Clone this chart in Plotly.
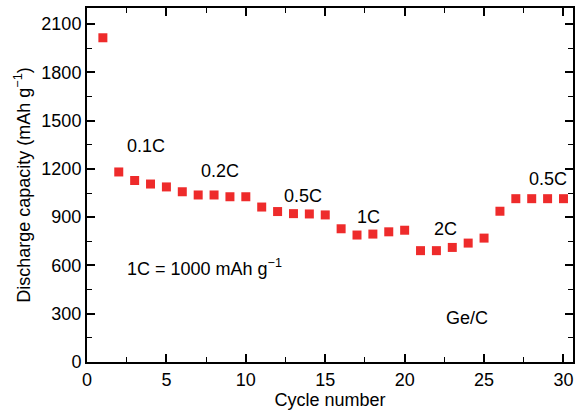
import plotly.graph_objects as go

cycles = list(range(1, 31))
capacity = [2015, 1181, 1128, 1106, 1088, 1058, 1038, 1038, 1027, 1027,
            963, 935, 922, 920, 914, 828, 789, 795, 809, 819,
            692, 692, 712, 739, 770, 937, 1015, 1015, 1015, 1015]

rate_labels = ["0.1C", "0.2C", "0.5C", "1C", "2C", "0.5C"]
rate_x = [3.7, 8.4, 13.6, 17.7, 22.6, 29.0]
rate_y = [1340, 1186, 1031, 902, 828, 1136]

fig = go.Figure()
fig.add_trace(go.Scatter(
    x=cycles, y=capacity, mode="markers",
    marker=dict(symbol="square", size=9, color="#ee2b2b", line=dict(width=0)),
    showlegend=False))

font = dict(family="Liberation Sans, Arial, sans-serif", size=18, color="black")
for t, x, y in zip(rate_labels, rate_x, rate_y):
    fig.add_annotation(x=x, y=y, text=t, showarrow=False, font=font)
fig.add_annotation(x=7.4, y=587, text="1C = 1000 mAh g<sup>−1</sup>", showarrow=False, font=font)
fig.add_annotation(x=23.9, y=272, text="Ge/C", showarrow=False, font=font)

axis_common = dict(showline=True, linecolor="black", linewidth=2, mirror="allticks",
                   ticks="inside", ticklen=8, tickwidth=1.5, tickcolor="black",
                   showgrid=False, zeroline=False, tickfont=font)
fig.update_xaxes(range=[0, 30.6], tickvals=[0, 5, 10, 15, 20, 25, 30],
                 minor=dict(dtick=2.5, tick0=0, ticks="inside", ticklen=5, tickwidth=1.2, tickcolor="black"),
                 title=dict(text="Cycle number", font=font, standoff=2), **axis_common)
fig.update_yaxes(range=[0, 2200], tickvals=[0, 300, 600, 900, 1200, 1500, 1800, 2100],
                 minor=dict(dtick=150, tick0=0, ticks="inside", ticklen=5, tickwidth=1.2, tickcolor="black"),
                 title=dict(text="Discharge capacity (mAh g<sup>−1</sup>)", font=font, standoff=6), **axis_common)
fig.update_layout(width=582, height=410, margin=dict(l=87, r=9, t=6, b=48),
                  plot_bgcolor="white", paper_bgcolor="white", font=font)
fig.write_html("out.html", config={"displayModeBar": False},
               post_script="document.body.style.margin='0';")
